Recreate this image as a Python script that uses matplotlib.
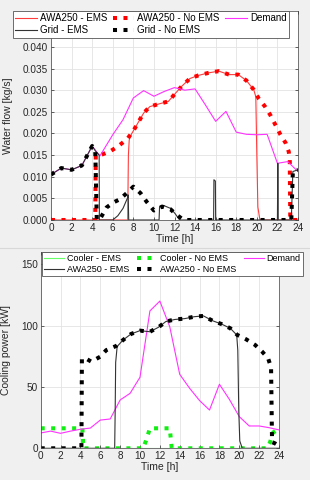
import numpy as np
import matplotlib.pyplot as plt

plt.rcParams['font.family'] = ['Liberation Sans', 'DejaVu Sans']

# ---------------- top panel: water flow [kg/s] ----------------
t_demand_w = [0, 1, 2, 3, 4, 4.75, 6, 7, 8, 9, 10, 11, 12, 13, 14, 15, 16, 17, 18, 19, 20, 21, 22, 23, 24]
demand_w = [0.0105, 0.0120, 0.0116, 0.0126, 0.0171, 0.0148, 0.0197, 0.0232, 0.0282, 0.0299, 0.0286,
            0.0297, 0.0306, 0.0300, 0.0303, 0.0266, 0.0228, 0.0251, 0.0203, 0.0198, 0.0197, 0.0198,
            0.0131, 0.0135, 0.0112]

t_awa_no_w = [0, 1, 2, 3, 4, 4.3, 4.35, 4.8, 5.7, 6.5, 7.4, 8.0, 9.0, 9.6, 10.6, 11.4, 12.1, 12.7, 13.5,
              14.3, 15.3, 16.3, 17.3, 18.2, 19.0, 19.7, 20.2, 20.8, 21.3, 21.8, 22.3, 22.8, 23.1, 23.2,
              23.25, 24]
awa_no_w = [0, 0, 0, 0, 0, 0, 0.0150, 0.0150, 0.0158, 0.0170, 0.0187, 0.0206, 0.0247, 0.0262, 0.0269,
            0.0274, 0.0293, 0.0309, 0.0327, 0.0334, 0.0340, 0.0344, 0.0336, 0.0336, 0.0322, 0.0301,
            0.0280, 0.0262, 0.0243, 0.0220, 0.0197, 0.0178, 0.0158, 0.0140, 0, 0]

t_awa_ems_w = [0, 7.45, 7.52, 7.6, 7.8, 8.0, 9.0, 9.6, 10.6, 11.4, 12.1, 12.7, 13.5, 14.3, 15.3, 16.3,
               17.3, 18.2, 19.0, 19.7, 19.9, 20.0, 20.1, 20.3, 24]
awa_ems_w = [0, 0, 0.0150, 0.0185, 0.0198, 0.0206, 0.0247, 0.0262, 0.0269, 0.0274, 0.0293, 0.0309,
             0.0327, 0.0334, 0.0340, 0.0344, 0.0336, 0.0336, 0.0322, 0.0301, 0.0285, 0.0150, 0.0030,
             0, 0]

t_grid_no_w = [0, 1, 2, 3, 4, 4.3, 4.45, 4.8, 5.4, 6.1, 6.7, 7.4, 8.0, 8.7, 9.3, 10.0, 10.8, 11.6, 12.2,
               12.9, 23.35, 23.5, 24]
grid_no_w = [0.0105, 0.0120, 0.0116, 0.0126, 0.0171, 0.0160, 0, 0.0004, 0.0029, 0.0041, 0.0048,
             0.0063, 0.0077, 0.0062, 0.0042, 0.0022, 0.0031, 0.0025, 0.0012, 0, 0, 0.0112, 0.0116]

t_grid_ems_w = [0, 1, 2, 3, 4, 4.3, 4.68, 4.7, 6.0, 6.5, 7.0, 7.45, 7.5, 7.55, 10.5, 10.55, 11.0, 11.6,
                12.05, 12.5, 15.8, 15.83, 15.97, 16.0, 22.0, 22.04, 22.08, 23.35, 23.5, 24]
grid_ems_w = [0.0105, 0.0120, 0.0116, 0.0126, 0.0171, 0.0160, 0.0150, 0, 0, 0.0010, 0.0027, 0.0052,
              0.0058, 0, 0, 0.0031, 0.0033, 0.0027, 0.0015, 0, 0, 0.0093, 0.0090, 0, 0, 0.0131, 0, 0,
              0.0112, 0.0116]

# ---------------- bottom panel: cooling power [kW] ----------------
t_hours = list(range(25))
demand_c = [12.5, 14.0, 12.2, 14.0, 15.5, 16.5, 23.0, 23.9, 39.4, 44.8, 57.9, 112, 120, 99, 60.3,
            48.9, 38.9, 31.2, 52.2, 39.9, 25.8, 18.2, 18.2, 16.8, 15.0]

t_cool_ems = [0, 24]
cool_ems = [0, 0]

t_cool_no = [0, 1, 2, 3, 4, 4.2, 4.3, 10.3, 10.6, 11.0, 12, 13, 13.1, 13.2, 22.8, 23.1, 23.4, 24]
cool_no = [16.3, 16.3, 16.3, 16.3, 16.3, 16.3, 0, 0, 6, 16.3, 16.3, 16.3, 8, 0, 0, 5, 12.8, 16.3]

t_awa_no_c = [0, 1, 2, 3, 4, 4.1, 4.15, 4.5, 5.1, 6.0, 6.6, 7.6, 8.3, 9.1, 10, 11, 11.85, 12.6, 13.5,
              14.5, 15.5, 16.4, 17.3, 18.2, 19.1, 19.8, 20.7, 21.6, 22.3, 22.9, 23.2, 23.3, 23.6, 24]
awa_no_c = [0, 0, 0, 0, 0, 0, 73, 73.4, 70.6, 74.7, 80, 83.4, 88.3, 93.2, 95.9, 95, 98.6, 103.3, 105,
            105.7, 107.3, 107.9, 104, 101.3, 97.8, 92.4, 88.8, 84.2, 78.8, 73.4, 66, 5, 4, 2]

t_awa_ems_c = [0, 7.45, 7.5, 7.55, 7.7, 8.3, 9.1, 10, 11, 11.85, 12.6, 13.5, 14.5, 15.5, 16.4, 17.3,
               18.2, 19.1, 19.74, 19.85, 19.95, 20.05, 20.3, 24]
awa_ems_c = [0, 0, 30, 70, 83, 88.3, 93.2, 95.9, 95, 98.6, 103.3, 105, 105.7, 107.3, 107.9, 104,
             101.3, 97.8, 92.4, 80, 30, 6, 0, 0]

W, H = 310, 480
fig = plt.figure(figsize=(W / 100, H / 100), dpi=100, facecolor='#f0f0f0')


def axes_px(left, top, right, bottom):
    return fig.add_axes([left / W, 1 - bottom / H, (right - left) / W, (bottom - top) / H])


dot = dict(linestyle=(0, (1, 1.6)), linewidth=2.9, dash_capstyle='butt')
thin = dict(linewidth=0.8)
fs = 7.2


def style(ax):
    ax.set_facecolor('white')
    ax.set_xlim(0, 24)
    ax.set_xticks(range(0, 25, 2))
    ax.grid(True, color='#e3e3e3', linewidth=0.6)
    ax.set_axisbelow(True)
    ax.tick_params(direction='in', length=2.5, width=0.5, labelsize=fs, colors='#262626',
                   top=True, right=True, pad=2)
    for s in ax.spines.values():
        s.set_color('#404040')
        s.set_linewidth(0.5)
    ax.set_xlabel('Time [h]', fontsize=7.5, color='#262626', labelpad=1)


ax1 = axes_px(51, 11, 298, 220)
h1, = ax1.plot(t_awa_ems_w, awa_ems_w, color='#ff3c3c', label='AWA250 - EMS', **thin)
h2, = ax1.plot(t_awa_no_w, awa_no_w, color='#ff0000', label='AWA250 - No EMS', **dot)
h3, = ax1.plot(t_demand_w, demand_w, color='#ff33ff', label='Demand', **thin)
h4, = ax1.plot(t_grid_ems_w, grid_ems_w, color='#333333', label='Grid - EMS', **thin)
h5, = ax1.plot(t_grid_no_w, grid_no_w, color='black', label='Grid - No EMS', **dot)
style(ax1)
ax1.set_ylim(0, 0.0483)
ax1.set_yticks(np.arange(0, 0.0401, 0.005))
ax1.yaxis.set_major_formatter(plt.FormatStrFormatter('%.3f'))
ax1.set_ylabel('Water flow [kg/s]', fontsize=7.5, color='#262626')
ax1.yaxis.set_label_coords(-0.155, 0.5)

leg_kw = dict(loc='upper left', ncol=3, bbox_transform=fig.transFigure,
              borderaxespad=0, handlelength=2.2, handletextpad=0.3,
              borderpad=0.25, labelspacing=0.2, fancybox=False, framealpha=1, edgecolor='#555555')
lg1 = ax1.legend([h1, h4, h2, h5, h3], [h.get_label() for h in [h1, h4, h2, h5, h3]],
                 bbox_to_anchor=(13 / W, 1 - 11 / H), fontsize=7, columnspacing=0.6, **leg_kw)
lg1.get_frame().set_linewidth(0.6)

ax2 = axes_px(40.7, 252, 279, 448.3)
g1, = ax2.plot(t_cool_ems, cool_ems, color='#66ff66', label='Cooler - EMS', **thin)
g2, = ax2.plot(t_cool_no, cool_no, color='#11ee11', label='Cooler - No EMS', **dot)
g3, = ax2.plot(t_hours, demand_c, color='#ff33ff', label='Demand', **thin)
g4, = ax2.plot(t_awa_ems_c, awa_ems_c, color='#333333', label='AWA250 - EMS', **thin)
g5, = ax2.plot(t_awa_no_c, awa_no_c, color='black', label='AWA250 - No EMS', **dot)
style(ax2)
ax2.set_ylim(0, 160)
ax2.set_yticks([0, 50, 100, 150])
ax2.set_ylabel('Cooling power [kW]', fontsize=7.5, color='#262626')
ax2.yaxis.set_label_coords(-0.125, 0.5)
lg2 = ax2.legend([g1, g4, g2, g5, g3], [h.get_label() for h in [g1, g4, g2, g5, g3]],
                 bbox_to_anchor=(42 / W, 1 - 252 / H), fontsize=6.5, columnspacing=0.9, **leg_kw)
lg2.get_frame().set_linewidth(0.6)

# seam between the two stacked screenshots
fig.add_artist(plt.Line2D([0, 1], [1 - 248 / H, 1 - 248 / H], transform=fig.transFigure,
                          color='#d8d8d8', linewidth=0.8))

fig.savefig('out.png', dpi=100, facecolor=fig.get_facecolor())
